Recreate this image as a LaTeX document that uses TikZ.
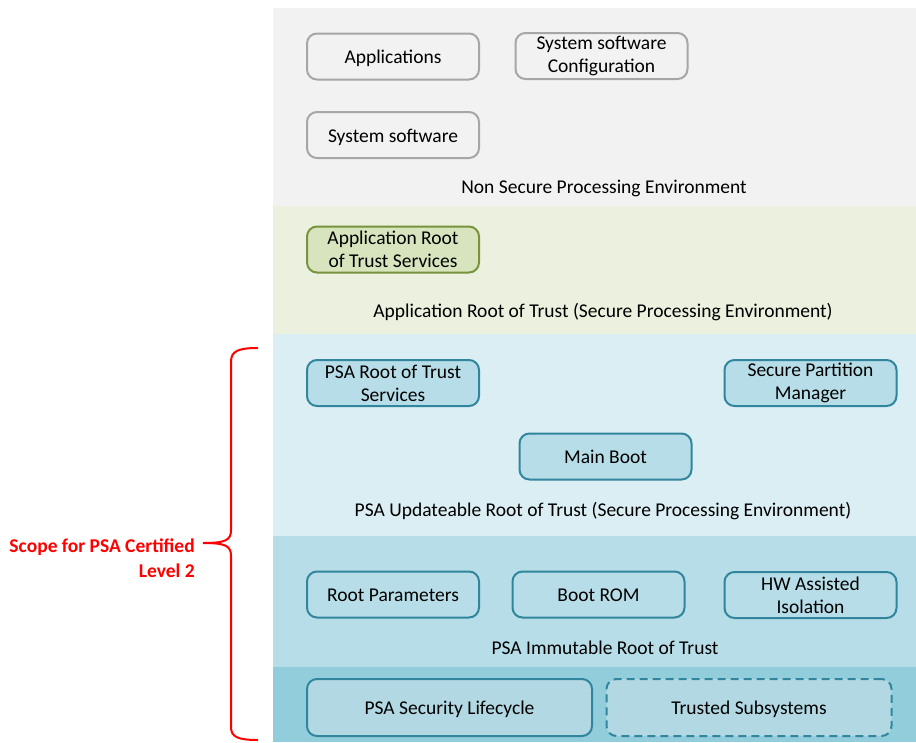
\documentclass[tikz,border=0pt]{standalone}
\usepackage{fontspec}
\setmainfont{Carlito}
\usetikzlibrary{positioning}
\definecolor{nsbg}{HTML}{F2F2F2}
\definecolor{nsline}{HTML}{A6A6A6}
\definecolor{arotbg}{HTML}{EBF1DE}
\definecolor{arotfill}{HTML}{D7E4BD}
\definecolor{arotline}{HTML}{77933C}
\definecolor{updbg}{HTML}{DAEEF3}
\definecolor{immbg}{HTML}{B7DEE8}
\definecolor{basebg}{HTML}{92CDDC}
\definecolor{psafill}{HTML}{B7DEE8}
\definecolor{basefill}{HTML}{B2D9E3}
\definecolor{psaline}{HTML}{31859C}
\definecolor{scopered}{HTML}{FF0000}

\begin{document}
\begin{tikzpicture}[x=1pt, y=-1pt,
    every node/.style={font=\fontsize{19.5}{23}\selectfont, align=center, inner sep=0pt},
    oneline/.style={text height=16pt, text depth=2pt},
    blk/.style={rounded corners=10pt, line width=2pt, minimum width=172pt, minimum height=46pt},
    nsblk/.style={blk, draw=nsline, fill=nsbg},
    arotblk/.style={blk, draw=arotline, fill=arotfill},
    psablk/.style={blk, draw=psaline, fill=psafill},
    baseblk/.style={blk, oneline, draw=psaline, fill=basefill, minimum width=285pt, minimum height=57pt},
    layerlbl/.style={oneline, text=black}]
\useasboundingbox (0,0) rectangle (916,742);

% layers
\fill[nsbg] (273,8) rectangle (916,206);
\fill[arotbg] (273,206) rectangle (916,334);
\fill[updbg] (273,334) rectangle (916,536);
\fill[immbg] (273,536) rectangle (916,667);
\fill[basebg] (273,667) rectangle (916,742);

% non secure
\node[nsblk, oneline] (apps) at (393, 56.5) {Applications};
\node[nsblk] (syscfg) at (601.5, 56) {System software\\Configuration};
\node[nsblk, oneline] (syssw) at (393, 135) {System software};
\node[layerlbl] (nspe) at (604, 186) {Non Secure Processing Environment};

% application root of trust
\node[arotblk] (arotsvc) at (393, 249.5) {Application Root\\of Trust Services};
\node[layerlbl] (arot) at (603, 310) {Application Root of Trust (Secure Processing Environment)};

% updateable root of trust
\node[psablk] (psarot) at (393, 383) {PSA Root of Trust\\Services};
\node[psablk] (spm) at (810.5, 383) {Secure Partition\\Manager};
\node[psablk, oneline] (mainboot) at (605.5, 456.5) {Main Boot};
\node[layerlbl] (upd) at (603, 509) {PSA Updateable Root of Trust (Secure Processing Environment)};

% immutable root of trust
\node[psablk, oneline] (rootparam) at (393, 594.5) {Root Parameters};
\node[psablk, oneline] (bootrom) at (598.5, 594.5) {Boot ROM};
\node[psablk] (hwiso) at (810.5, 595) {HW Assisted\\Isolation};
\node[layerlbl] (imm) at (605, 647) {PSA Immutable Root of Trust};

\node[baseblk] (lifecycle) at (449.5, 707.5) {PSA Security Lifecycle};
\node[baseblk, dashed, dash pattern=on 8pt off 5pt] (trusted) at (749, 707.5) {Trusted Subsystems};

% scope brace
\coordinate (btop) at (258, 348);
\coordinate (tip) at (203, 543);
\coordinate (bbot) at (258, 740);
\node[text=scopered, font=\fontsize{19.5}{25}\selectfont\bfseries, align=right, anchor=east] (scope) at (195, 558.5) {Scope for PSA Certified\\Level 2};
\draw[scopered, line width=2pt] (btop) .. controls (238,348) and (231,351) .. (231,362) -- (231,530)
  .. controls (231,540) and (226,543) .. (tip)
  .. controls (226,543) and (231,546) .. (231,556) -- (231,727)
  .. controls (231,737) and (238,740) .. (bbot);
\end{tikzpicture}
\end{document}
